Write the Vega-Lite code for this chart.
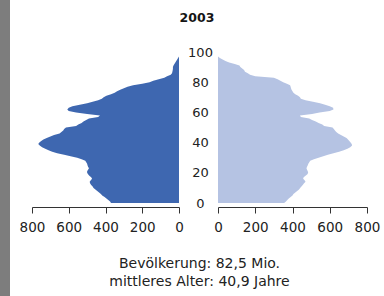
{
  "$schema": "https://vega.github.io/schema/vega-lite/v6.json",
  "autosize": "none",
  "width": 374,
  "height": 296,
  "padding": {"left": 10, "top": 0, "right": 0, "bottom": 0},
  "background": "#7d7d7d",
  "view": {"fill": "white", "stroke": null},
  "config": {"font": "DejaVu Sans"},
  "title": {"text": "2003", "font": "DejaVu Sans", "fontSize": 12.5, "fontWeight": "bold", "color": "#151515", "anchor": "middle", "baseline": "alphabetic", "offset": -34},
  "data": {"values": [
    {"a":0,"m":370,"f":355},{"a":1,"m":375,"f":365},{"a":2,"m":385,"f":372},{"a":3,"m":395,"f":380},{"a":4,"m":405,"f":390},
    {"a":5,"m":418,"f":400},{"a":6,"m":425,"f":405},{"a":7,"m":435,"f":415},{"a":8,"m":445,"f":425},{"a":9,"m":455,"f":435},
    {"a":10,"m":465,"f":441},{"a":11,"m":470,"f":448},{"a":12,"m":478,"f":455},{"a":13,"m":484,"f":462},{"a":14,"m":486,"f":470},
    {"a":15,"m":480,"f":465},{"a":16,"m":473,"f":457},{"a":17,"m":478,"f":460},{"a":18,"m":488,"f":470},{"a":19,"m":495,"f":480},
    {"a":20,"m":500,"f":484},{"a":21,"m":500,"f":482},{"a":22,"m":495,"f":478},{"a":23,"m":490,"f":475},{"a":24,"m":495,"f":478},
    {"a":25,"m":498,"f":482},{"a":26,"m":500,"f":485},{"a":27,"m":505,"f":490},{"a":28,"m":510,"f":495},{"a":29,"m":530,"f":515},
    {"a":30,"m":554,"f":540},{"a":31,"m":590,"f":565},{"a":32,"m":625,"f":590},{"a":33,"m":663,"f":620},{"a":34,"m":690,"f":650},
    {"a":35,"m":710,"f":675},{"a":36,"m":728,"f":695},{"a":37,"m":745,"f":710},{"a":38,"m":758,"f":720},{"a":39,"m":766,"f":718},
    {"a":40,"m":760,"f":712},{"a":41,"m":750,"f":705},{"a":42,"m":738,"f":698},{"a":43,"m":720,"f":690},{"a":44,"m":700,"f":675},
    {"a":45,"m":680,"f":660},{"a":46,"m":650,"f":645},{"a":47,"m":640,"f":635},{"a":48,"m":630,"f":628},{"a":49,"m":625,"f":622},
    {"a":50,"m":615,"f":615},{"a":51,"m":560,"f":570},{"a":52,"m":548,"f":560},{"a":53,"m":530,"f":540},{"a":54,"m":520,"f":525},
    {"a":55,"m":505,"f":505},{"a":56,"m":490,"f":490},{"a":57,"m":440,"f":445},{"a":58,"m":430,"f":440},{"a":59,"m":500,"f":505},
    {"a":60,"m":560,"f":545},{"a":61,"m":600,"f":600},{"a":62,"m":608,"f":620},{"a":63,"m":600,"f":618},{"a":64,"m":580,"f":600},
    {"a":65,"m":540,"f":575},{"a":66,"m":500,"f":548},{"a":67,"m":470,"f":510},{"a":68,"m":440,"f":470},{"a":69,"m":420,"f":445},
    {"a":70,"m":410,"f":440},{"a":71,"m":395,"f":430},{"a":72,"m":370,"f":415},{"a":73,"m":350,"f":405},{"a":74,"m":337,"f":400},
    {"a":75,"m":320,"f":395},{"a":76,"m":300,"f":392},{"a":77,"m":280,"f":390},{"a":78,"m":250,"f":387},{"a":79,"m":200,"f":370},
    {"a":80,"m":160,"f":350},{"a":81,"m":140,"f":335},{"a":82,"m":110,"f":320},{"a":83,"m":80,"f":300},{"a":84,"m":65,"f":200},
    {"a":85,"m":45,"f":172},{"a":86,"m":38,"f":160},{"a":87,"m":36,"f":145},{"a":88,"m":34,"f":140},{"a":89,"m":33,"f":130},
    {"a":90,"m":33,"f":120},{"a":91,"m":30,"f":115},{"a":92,"m":25,"f":90},{"a":93,"m":20,"f":60},{"a":94,"m":15,"f":40},
    {"a":95,"m":10,"f":25},{"a":96,"m":5,"f":10},{"a":97,"m":0,"f":0}
  ]},
  "encoding": {
    "y": {"field": "a", "type": "quantitative",
      "scale": {"domain": [0, 100], "range": [203, 52], "nice": false, "zero": false},
      "axis": {"orient": "left", "offset": -190, "values": [0, 20, 40, 60, 80, 100], "domain": false, "ticks": false, "tickSize": 0, "grid": false, "labelPadding": 0, "labelAlign": "center", "labelFontSize": 13, "labelColor": "#222", "labelFont": "DejaVu Sans", "labelOverlap": false, "title": null}}
  },
  "layer": [
    {
      "mark": {"type": "area", "orient": "horizontal", "color": "#3e67b0"},
      "encoding": {
        "x": {"field": "m", "type": "quantitative",
          "scale": {"domain": [0, 800], "range": [169, 22], "nice": false},
          "axis": {"orient": "bottom", "offset": -89, "values": [0, 200, 400, 600, 800], "grid": false, "domainColor": "#333", "tickColor": "#333", "tickSize": 6, "labelPadding": 7, "labelFontSize": 13.5, "labelColor": "#222", "labelFont": "DejaVu Sans", "labelOverlap": false, "labelFlush": false, "title": null}}
      }
    },
    {
      "mark": {"type": "area", "orient": "horizontal", "color": "#b5c3e3"},
      "encoding": {
        "x": {"field": "f", "type": "quantitative",
          "scale": {"domain": [0, 800], "range": [208, 357], "nice": false},
          "axis": {"orient": "bottom", "offset": -89, "values": [0, 200, 400, 600, 800], "grid": false, "domainColor": "#333", "tickColor": "#333", "tickSize": 6, "labelPadding": 7, "labelFontSize": 13.5, "labelColor": "#222", "labelFont": "DejaVu Sans", "labelOverlap": false, "labelFlush": false,
            "title": ["Bevölkerung: 82,5 Mio.", "mittleres Alter: 40,9 Jahre"], "titleX": 189, "titleY": 60, "titleAlign": "center", "titleBaseline": "alphabetic", "titleFont": "DejaVu Sans", "titleFontSize": 14, "titleFontWeight": "normal", "titleColor": "#222", "titleLineHeight": 18}}
      }
    }
  ],
  "resolve": {"scale": {"x": "independent"}, "axis": {"x": "independent"}}
}
